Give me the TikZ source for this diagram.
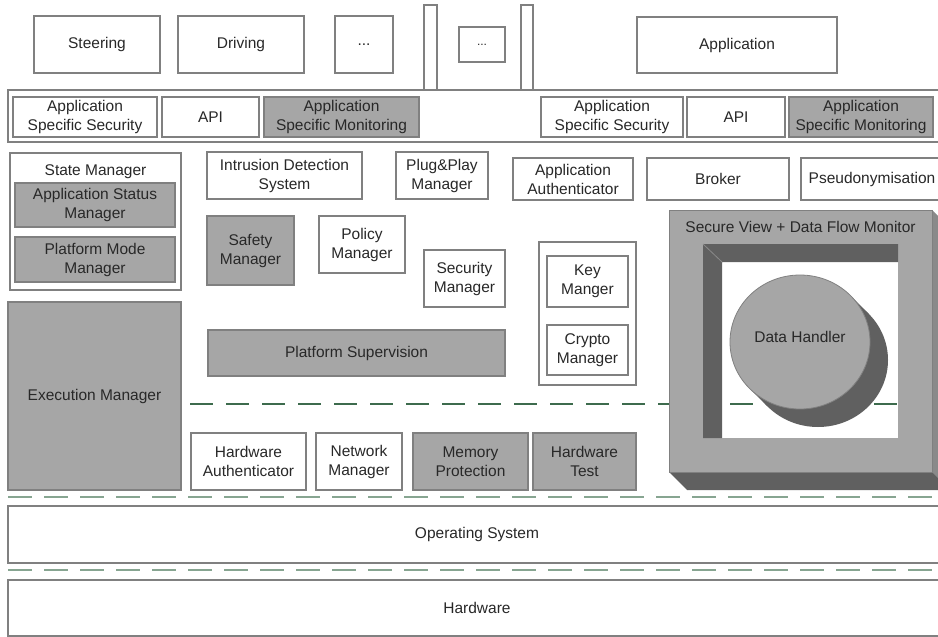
\documentclass[tikz,border=0pt]{standalone}
\usepackage{fontspec}
\setmainfont{Liberation Sans}
\usetikzlibrary{shapes.geometric}

\definecolor{edge}{RGB}{128,128,128}
\definecolor{boxgray}{RGB}{166,166,166}
\definecolor{deep}{RGB}{96,96,96}
\definecolor{side}{RGB}{138,138,138}
\definecolor{ink}{RGB}{40,40,40}
\definecolor{darkdash}{RGB}{61,107,77}
\definecolor{lightdash}{RGB}{135,165,145}

\tikzset{
  base/.style={draw=edge, line width=1.1pt, inner sep=0pt, align=center,
    text=ink, font=\fontsize{15.5}{19}\selectfont},
  wbox/.style={base, fill=white},
  gbox/.style={base, fill=boxgray},
  caption/.style={inner sep=0pt, text=ink, font=\fontsize{15.5}{19}\selectfont},
  layerline/.style={lightdash, line width=2.6pt, dash pattern=on 24pt off 12pt},
  zoneline/.style={darkdash, line width=1.8pt, dash pattern=on 23pt off 13pt},
}

% box from its corners (x1,y1) and (x2,y2)
\newcommand\boxat[7]{%
  \node[#1, minimum width={(#5-#3)*1pt}, minimum height={(#6-#4)*1pt}]
    (#2) at ({(#3+#5)/2},{(#4+#6)/2}) {#7};}

\begin{document}
\begin{tikzpicture}[x=1pt,y=-1pt]
\clip (0,0) rectangle (938,637);
\fill[white] (0,0) rectangle (938,637);

% layer separators
\coordinate (za) at (190,404);  \coordinate (zb) at (940,404);
\coordinate (la) at (8,497);    \coordinate (lb) at (940,497);
\coordinate (ma) at (8,570);    \coordinate (mb) at (940,570);
\draw[zoneline] (za) -- (zb);
\draw[layerline] (la) -- (lb);
\draw[layerline] (ma) -- (mb);

% applications
\boxat{wbox}{steer}{34}{16}{160}{73}{Steering}
\boxat{wbox}{drive}{178}{16}{304}{73}{Driving}
\boxat{wbox}{more}{335}{16}{393}{73}{...}
\boxat{wbox}{postl}{424}{5}{437}{90}{}
\boxat{wbox}{morei}{459}{27}{505}{62}{\fontsize{12}{14}\selectfont ...}
\boxat{wbox}{postr}{521}{5}{533}{90}{}
\boxat{wbox}{app}{637}{17}{837}{73}{Application}

% application interface bar
\boxat{wbox}{ifbar}{8}{90}{946}{142}{}
\boxat{wbox}{assl}{13}{97}{157}{137}{Application\\Specific Security}
\boxat{wbox}{apil}{162}{97}{259}{137}{API}
\boxat{gbox}{asml}{264}{97}{419}{137}{Application\\Specific Monitoring}
\boxat{wbox}{assr}{541}{97}{683}{137}{Application\\Specific Security}
\boxat{wbox}{apir}{687}{97}{785}{137}{API}
\boxat{gbox}{asmr}{789}{97}{933}{137}{Application\\Specific Monitoring}

% platform services
\boxat{wbox}{state}{10}{153}{181}{290}{}
\node[caption] (statecap) at (95.5,172) {State Manager};
\boxat{gbox}{appstat}{15}{183}{175}{227}{Application Status\\Manager}
\boxat{gbox}{pmode}{15}{237}{175}{282}{Platform Mode\\Manager}
\boxat{gbox}{exec}{8}{302}{181}{490}{Execution Manager}

\boxat{wbox}{ids}{207}{152}{362}{199}{Intrusion Detection\\System}
\boxat{wbox}{pnp}{396}{152}{488}{199}{Plug\&Play\\Manager}
\boxat{wbox}{appauth}{513}{158}{633}{200}{Application\\Authenticator}
\boxat{wbox}{broker}{647}{158}{789}{200}{Broker}
\boxat{wbox}{pseudo}{801}{158}{943}{200}{Pseudonymisation}

\boxat{gbox}{safety}{207}{216}{294}{285}{Safety\\Manager}
\boxat{wbox}{policy}{319}{216}{405}{273}{Policy\\Manager}
\boxat{wbox}{secmgr}{424}{250}{505}{307}{Security\\Manager}
\boxat{wbox}{keyzone}{539}{242}{636}{385}{}
\boxat{wbox}{keymgr}{547}{256}{628}{307}{Key\\Manger}
\boxat{wbox}{crypto}{547}{325}{628}{375}{Crypto\\Manager}
\boxat{gbox}{platsup}{208}{330}{505}{376}{Platform Supervision}

\boxat{wbox}{hwauth}{191}{433}{306}{490}{Hardware\\Authenticator}
\boxat{wbox}{netmgr}{316}{433}{402}{490}{Network\\Manager}
\boxat{gbox}{memprot}{413}{433}{528}{490}{Memory\\Protection}
\boxat{gbox}{hwtest}{533}{433}{636}{490}{Hardware\\Test}

% secure view: raised block with a recessed window
\fill[side] (932,210) -- (950,228) -- (950,490) -- (932,472) -- cycle;
\fill[deep] (669,472) -- (932,472) -- (950,490) -- (687,490) -- cycle;
\fill[boxgray, even odd rule] (669,210) rectangle (932,472) (703,244) rectangle (898,438);
\draw[edge, line width=0.8pt] (669,210) rectangle (932,472);
\fill[deep] (703,244) -- (898,244) -- (898,262) -- (722,262) -- (722,438) -- (703,438) -- cycle;
\draw[side, line width=0.8pt] (703,244) -- (722,262);
\draw[edge!70, line width=0.8pt] (722,438) -- (898,438) -- (898,262);
\node[caption] (svcap) at (800.5,227) {Secure View + Data Flow Monitor};

% data handler disc with its shadow
\fill[deep] (818,360) ellipse [x radius=70pt, y radius=67pt];
\fill[deep] (850.6,295.7) -- (868.6,313.7) -- (767.4,406.3) -- (749.4,388.3) -- cycle;
\node[ellipse, draw=edge, line width=0.8pt, fill=boxgray, minimum width=140pt,
  minimum height=134pt, inner sep=0pt] (dh) at (800,342) {};
\node[caption] (dhcap) at (800,337) {Data Handler};

% operating system and hardware
\boxat{wbox}{os}{8}{506}{946}{563}{Operating System}
\boxat{wbox}{hw}{8}{580}{946}{636}{Hardware}
\end{tikzpicture}
\end{document}
